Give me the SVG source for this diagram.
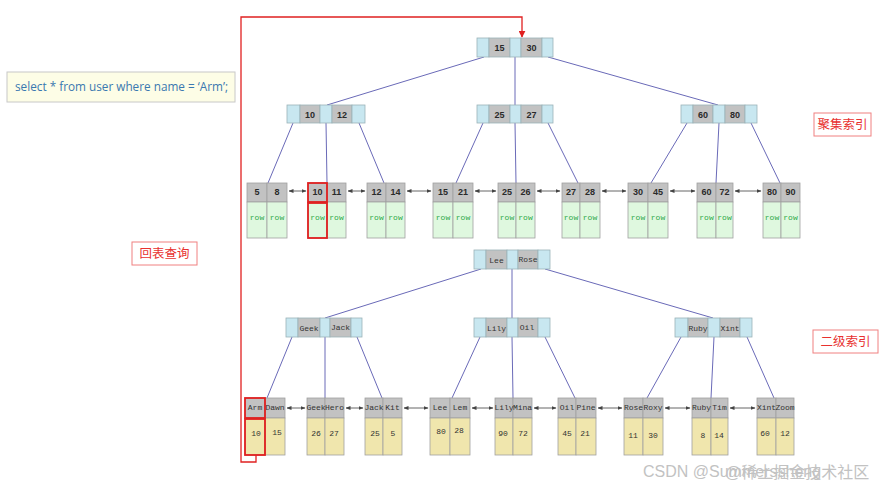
<svg xmlns="http://www.w3.org/2000/svg" width="892" height="489" viewBox="0 0 892 489">
<defs>
<style>
.b{fill:#c8e7f0;stroke:#9bb3b8;stroke-width:0.8}
.g{fill:#c2c2c2;stroke:#9bb3b8;stroke-width:0.8}
.lg{fill:#c2c2c2;stroke:#a0a0a0;stroke-width:0.8}
.gr{fill:#dff8df;stroke:#a0a0a0;stroke-width:0.8}
.ye{fill:#f0e6ad;stroke:#a0a0a0;stroke-width:0.8}
.k{font-family:"Liberation Sans","DejaVu Sans",sans-serif;font-size:9px;fill:#2a2a2a;text-anchor:middle;font-weight:bold}
.m{font-family:"Liberation Mono","DejaVu Sans Mono",monospace;font-size:8px;fill:#333;text-anchor:middle}
.row{font-family:"Liberation Mono","DejaVu Sans Mono",monospace;font-size:8px;fill:#2ea84a;text-anchor:middle}
.c line{stroke:#6a6ab8;stroke-width:1}
.a line{stroke:#555;stroke-width:0.9;marker-start:url(#ah);marker-end:url(#ah)}
.lab{fill:#fff;stroke:#f08080;stroke-width:1}
.lt{font-family:"Noto Sans CJK SC","Noto Sans",sans-serif;font-size:12.5px;fill:#e8312f;text-anchor:middle}
.hl{fill:none;stroke:#e02020;stroke-width:1.8}
</style>
<marker id="ah" viewBox="0 0 10 10" refX="9" refY="5" markerWidth="5" markerHeight="5" orient="auto-start-reverse" markerUnits="userSpaceOnUse"><path d="M0,1 L10,5 L0,9 z" fill="#444"/></marker>
<marker id="ra" viewBox="0 0 10 10" refX="9" refY="5" markerWidth="7" markerHeight="7" orient="auto" markerUnits="userSpaceOnUse"><path d="M0,0 L10,5 L0,10 z" fill="#e02020"/></marker>
</defs>
<rect width="892" height="489" fill="#fff"/>

<!-- SQL box -->
<g id="sql">
<rect x="7" y="72" width="228" height="30" fill="#fdfde6" stroke="#c8c8c8" stroke-width="1"/>
<text x="15" y="91" font-family="'Open Sans','Noto Sans',sans-serif" font-size="12" fill="#3a78b0" textLength="213" lengthAdjust="spacingAndGlyphs">select * from user where name = ‘Arm’;</text>
</g>

<!-- labels -->
<g id="label-cluster"><rect class="lab" x="814" y="113" width="57" height="23"/><text class="lt" x="842.5" y="129">聚集索引</text></g>
<g id="label-back"><rect class="lab" x="132" y="242" width="65" height="23"/><text class="lt" x="164.5" y="258">回表查询</text></g>
<g id="label-second"><rect class="lab" x="813" y="330" width="65" height="23"/><text class="lt" x="845.5" y="346">二级索引</text></g>

<!-- connectors -->
<g id="connectors">
<g class="c">
<line x1="484" y1="57" x2="327" y2="105"/>
<line x1="515" y1="57" x2="515" y2="105"/>
<line x1="548" y1="57" x2="718" y2="105"/>
<line x1="293" y1="123" x2="268" y2="183"/>
<line x1="326" y1="123" x2="327" y2="183"/>
<line x1="359" y1="123" x2="384" y2="183"/>
<line x1="483" y1="123" x2="456" y2="183"/>
<line x1="515" y1="123" x2="516" y2="183"/>
<line x1="548" y1="123" x2="578" y2="183"/>
<line x1="687" y1="123" x2="651" y2="183"/>
<line x1="719" y1="123" x2="716" y2="183"/>
<line x1="751" y1="123" x2="780" y2="183"/>
<line x1="481" y1="269" x2="325" y2="318"/>
<line x1="512" y1="269" x2="512" y2="318"/>
<line x1="545" y1="269" x2="713" y2="318"/>
<line x1="292" y1="337" x2="267" y2="398"/>
<line x1="325" y1="337" x2="325" y2="398"/>
<line x1="357" y1="337" x2="382" y2="398"/>
<line x1="480" y1="337" x2="452" y2="398"/>
<line x1="512" y1="337" x2="513" y2="398"/>
<line x1="545" y1="337" x2="575" y2="398"/>
<line x1="681" y1="337" x2="647" y2="398"/>
<line x1="714" y1="337" x2="711" y2="398"/>
<line x1="747" y1="337" x2="774" y2="398"/>
</g>
<g class="a">
<line x1="289" y1="191" x2="306" y2="191"/>
<line x1="348" y1="191" x2="365" y2="191"/>
<line x1="407" y1="191" x2="431" y2="191"/>
<line x1="475" y1="191" x2="496" y2="191"/>
<line x1="537" y1="191" x2="560" y2="191"/>
<line x1="602" y1="191" x2="626" y2="191"/>
<line x1="670" y1="191" x2="695" y2="191"/>
<line x1="735" y1="191" x2="761" y2="191"/>
<line x1="287" y1="408" x2="305" y2="408"/>
<line x1="346" y1="408" x2="363" y2="408"/>
<line x1="404" y1="408" x2="428" y2="408"/>
<line x1="472" y1="408" x2="493" y2="408"/>
<line x1="534" y1="408" x2="556" y2="408"/>
<line x1="598" y1="408" x2="622" y2="408"/>
<line x1="665" y1="408" x2="690" y2="408"/>
<line x1="730" y1="408" x2="755" y2="408"/>
</g>
<path d="M256,455 V462 H241 V17 H522 V37" fill="none" stroke="#e02020" stroke-width="1.3" marker-end="url(#ra)"/>
</g>

<!-- clustered index internal nodes -->
<g id="c-root">
<rect class="b" x="477" y="38" width="12" height="19"/><rect class="g" x="489" y="38" width="21" height="19"/><rect class="b" x="510" y="38" width="11" height="19"/><rect class="g" x="521" y="38" width="21" height="19"/><rect class="b" x="542" y="38" width="11" height="19"/>
<text class="k" x="499.5" y="51">15</text><text class="k" x="531.5" y="51">30</text>
</g>
<g id="c-10-12">
<rect class="b" x="287" y="105" width="13" height="18"/><rect class="g" x="300" y="105" width="20" height="18"/><rect class="b" x="320" y="105" width="12" height="18"/><rect class="g" x="332" y="105" width="20" height="18"/><rect class="b" x="352" y="105" width="13" height="18"/>
<text class="k" x="310" y="117.5">10</text><text class="k" x="342" y="117.5">12</text>
</g>
<g id="c-25-27">
<rect class="b" x="477" y="105" width="12" height="18"/><rect class="g" x="489" y="105" width="21" height="18"/><rect class="b" x="510" y="105" width="11" height="18"/><rect class="g" x="521" y="105" width="21" height="18"/><rect class="b" x="542" y="105" width="11" height="18"/>
<text class="k" x="499.5" y="117.5">25</text><text class="k" x="531.5" y="117.5">27</text>
</g>
<g id="c-60-80">
<rect class="b" x="681" y="105" width="12" height="18"/><rect class="g" x="693" y="105" width="20" height="18"/><rect class="b" x="713" y="105" width="12" height="18"/><rect class="g" x="725" y="105" width="20" height="18"/><rect class="b" x="745" y="105" width="12" height="18"/>
<text class="k" x="703" y="117.5">60</text><text class="k" x="735" y="117.5">80</text>
</g>

<!-- clustered leaves -->
<g id="cl-1"><rect class="lg" x="247" y="183" width="20" height="19"/><rect class="lg" x="267" y="183" width="20" height="19"/><rect class="gr" x="247" y="202" width="20" height="36"/><rect class="gr" x="267" y="202" width="20" height="36"/><text class="k" x="257" y="195">5</text><text class="k" x="277" y="195">8</text><text class="row" x="257" y="220">row</text><text class="row" x="277" y="220">row</text></g>
<g id="cl-2"><rect class="lg" x="308" y="183" width="19" height="19"/><rect class="lg" x="327" y="183" width="19" height="19"/><rect class="gr" x="308" y="202" width="19" height="36"/><rect class="gr" x="327" y="202" width="19" height="36"/><text class="k" x="317.5" y="195">10</text><text class="k" x="336.5" y="195">11</text><text class="row" x="317.5" y="220">row</text><text class="row" x="336.5" y="220">row</text>
<rect class="hl" x="308" y="183" width="19" height="19"/><rect class="hl" x="308" y="203" width="19" height="35"/></g>
<g id="cl-3"><rect class="lg" x="367" y="183" width="19" height="19"/><rect class="lg" x="386" y="183" width="19" height="19"/><rect class="gr" x="367" y="202" width="19" height="36"/><rect class="gr" x="386" y="202" width="19" height="36"/><text class="k" x="376.5" y="195">12</text><text class="k" x="395.5" y="195">14</text><text class="row" x="376.5" y="220">row</text><text class="row" x="395.5" y="220">row</text></g>
<g id="cl-4"><rect class="lg" x="433" y="183" width="20" height="19"/><rect class="lg" x="453" y="183" width="20" height="19"/><rect class="gr" x="433" y="202" width="20" height="36"/><rect class="gr" x="453" y="202" width="20" height="36"/><text class="k" x="443" y="195">15</text><text class="k" x="463" y="195">21</text><text class="row" x="443" y="220">row</text><text class="row" x="463" y="220">row</text></g>
<g id="cl-5"><rect class="lg" x="498" y="183" width="18" height="19"/><rect class="lg" x="516" y="183" width="19" height="19"/><rect class="gr" x="498" y="202" width="18" height="36"/><rect class="gr" x="516" y="202" width="19" height="36"/><text class="k" x="507" y="195">25</text><text class="k" x="525.5" y="195">26</text><text class="row" x="507" y="220">row</text><text class="row" x="525.5" y="220">row</text></g>
<g id="cl-6"><rect class="lg" x="562" y="183" width="18" height="19"/><rect class="lg" x="580" y="183" width="20" height="19"/><rect class="gr" x="562" y="202" width="18" height="36"/><rect class="gr" x="580" y="202" width="20" height="36"/><text class="k" x="571" y="195">27</text><text class="k" x="590" y="195">28</text><text class="row" x="571" y="220">row</text><text class="row" x="590" y="220">row</text></g>
<g id="cl-7"><rect class="lg" x="628" y="183" width="20" height="19"/><rect class="lg" x="648" y="183" width="20" height="19"/><rect class="gr" x="628" y="202" width="20" height="36"/><rect class="gr" x="648" y="202" width="20" height="36"/><text class="k" x="638" y="195">30</text><text class="k" x="658" y="195">45</text><text class="row" x="638" y="220">row</text><text class="row" x="658" y="220">row</text></g>
<g id="cl-8"><rect class="lg" x="697" y="183" width="19" height="19"/><rect class="lg" x="716" y="183" width="17" height="19"/><rect class="gr" x="697" y="202" width="19" height="36"/><rect class="gr" x="716" y="202" width="17" height="36"/><text class="k" x="706.5" y="195">60</text><text class="k" x="724.5" y="195">72</text><text class="row" x="706.5" y="220">row</text><text class="row" x="724.5" y="220">row</text></g>
<g id="cl-9"><rect class="lg" x="763" y="183" width="18" height="19"/><rect class="lg" x="781" y="183" width="19" height="19"/><rect class="gr" x="763" y="202" width="18" height="36"/><rect class="gr" x="781" y="202" width="19" height="36"/><text class="k" x="772" y="195">80</text><text class="k" x="790.5" y="195">90</text><text class="row" x="772" y="220">row</text><text class="row" x="790.5" y="220">row</text></g>

<!-- secondary internal nodes -->
<g id="s-root">
<rect class="b" x="474" y="250" width="12" height="19"/><rect class="g" x="486" y="250" width="21" height="19"/><rect class="b" x="507" y="250" width="11" height="19"/><rect class="g" x="518" y="250" width="20" height="19"/><rect class="b" x="538" y="250" width="12" height="19"/>
<text class="m" x="496.5" y="263">Lee</text><text class="m" x="528" y="262">Rose</text>
</g>
<g id="s-geek-jack">
<rect class="b" x="286" y="318" width="12" height="19"/><rect class="g" x="298" y="318" width="22" height="19"/><rect class="b" x="320" y="318" width="10" height="19"/><rect class="g" x="330" y="318" width="21" height="19"/><rect class="b" x="351" y="318" width="11" height="19"/>
<text class="m" x="309" y="331">Geek</text><text class="m" x="340.5" y="330">Jack</text>
</g>
<g id="s-lily-oil">
<rect class="b" x="474" y="318" width="12" height="19"/><rect class="g" x="486" y="318" width="21" height="19"/><rect class="b" x="507" y="318" width="11" height="19"/><rect class="g" x="518" y="318" width="20" height="19"/><rect class="b" x="538" y="318" width="12" height="19"/>
<text class="m" x="496.5" y="331">Lily</text><text class="m" x="527" y="330">Oil</text>
</g>
<g id="s-ruby-xint">
<rect class="b" x="675" y="318" width="13" height="19"/><rect class="g" x="688" y="318" width="20" height="19"/><rect class="b" x="708" y="318" width="12" height="19"/><rect class="g" x="720" y="318" width="20" height="19"/><rect class="b" x="740" y="318" width="12" height="19"/>
<text class="m" x="698" y="331">Ruby</text><text class="m" x="730" y="331">Xint</text>
</g>

<!-- secondary leaves -->
<g id="sl-1"><rect class="lg" x="245" y="398" width="20" height="20"/><rect class="lg" x="265" y="398" width="20" height="20"/><rect class="ye" x="245" y="418" width="20" height="37"/><rect class="ye" x="265" y="418" width="20" height="37"/><text class="m" x="255" y="410">Arm</text><text class="m" x="275" y="410">Dawn</text><text class="m" x="256" y="436">10</text><text class="m" x="277" y="435">15</text>
<rect class="hl" x="245" y="398" width="20" height="20"/><rect class="hl" x="245" y="419" width="20" height="36"/></g>
<g id="sl-2"><rect class="lg" x="307" y="398" width="18" height="20"/><rect class="lg" x="325" y="398" width="19" height="20"/><rect class="ye" x="307" y="418" width="18" height="37"/><rect class="ye" x="325" y="418" width="19" height="37"/><text class="m" x="316" y="410">Geek</text><text class="m" x="334.5" y="410">Hero</text><text class="m" x="316" y="436">26</text><text class="m" x="334" y="436">27</text></g>
<g id="sl-3"><rect class="lg" x="365" y="398" width="18" height="20"/><rect class="lg" x="383" y="398" width="19" height="20"/><rect class="ye" x="365" y="418" width="18" height="37"/><rect class="ye" x="383" y="418" width="19" height="37"/><text class="m" x="374" y="410">Jack</text><text class="m" x="392.5" y="410">Kit</text><text class="m" x="375" y="436">25</text><text class="m" x="393" y="436">5</text></g>
<g id="sl-4"><rect class="lg" x="430" y="398" width="20" height="20"/><rect class="lg" x="450" y="398" width="20" height="20"/><rect class="ye" x="430" y="418" width="20" height="37"/><rect class="ye" x="450" y="418" width="20" height="37"/><text class="m" x="440" y="410">Lee</text><text class="m" x="460" y="410">Lem</text><text class="m" x="441" y="434">80</text><text class="m" x="459" y="433">28</text></g>
<g id="sl-5"><rect class="lg" x="495" y="398" width="18" height="20"/><rect class="lg" x="513" y="398" width="19" height="20"/><rect class="ye" x="495" y="418" width="18" height="37"/><rect class="ye" x="513" y="418" width="19" height="37"/><text class="m" x="504" y="410">Lily</text><text class="m" x="522.5" y="410">Mina</text><text class="m" x="503" y="436">90</text><text class="m" x="523" y="436">72</text></g>
<g id="sl-6"><rect class="lg" x="558" y="398" width="18" height="20"/><rect class="lg" x="576" y="398" width="20" height="20"/><rect class="ye" x="558" y="418" width="18" height="37"/><rect class="ye" x="576" y="418" width="20" height="37"/><text class="m" x="567" y="410">Oil</text><text class="m" x="586" y="410">Pine</text><text class="m" x="567" y="436">45</text><text class="m" x="585" y="436">21</text></g>
<g id="sl-7"><rect class="lg" x="624" y="398" width="19" height="20"/><rect class="lg" x="643" y="398" width="20" height="20"/><rect class="ye" x="624" y="418" width="19" height="37"/><rect class="ye" x="643" y="418" width="20" height="37"/><text class="m" x="633.5" y="410">Rose</text><text class="m" x="653" y="410">Roxy</text><text class="m" x="633" y="438">11</text><text class="m" x="653" y="438">30</text></g>
<g id="sl-8"><rect class="lg" x="692" y="398" width="19" height="20"/><rect class="lg" x="711" y="398" width="17" height="20"/><rect class="ye" x="692" y="418" width="19" height="37"/><rect class="ye" x="711" y="418" width="17" height="37"/><text class="m" x="701.5" y="410">Ruby</text><text class="m" x="719.5" y="410">Tim</text><text class="m" x="703" y="438">8</text><text class="m" x="719" y="438">14</text></g>
<g id="sl-9"><rect class="lg" x="757" y="398" width="19" height="20"/><rect class="lg" x="776" y="398" width="18" height="20"/><rect class="ye" x="757" y="418" width="19" height="37"/><rect class="ye" x="776" y="418" width="18" height="37"/><text class="m" x="766.5" y="410">Xint</text><text class="m" x="785" y="410">Zoom</text><text class="m" x="765" y="436">60</text><text class="m" x="785" y="436">12</text></g>

<!-- watermark -->
<g id="watermark" font-family="'Liberation Sans','Noto Sans CJK SC',sans-serif" font-size="16" fill="#b8b8b8" opacity="0.85">
<text x="643" y="477">CSDN @Summerssheng</text>
<text x="725" y="478">@稀土掘金技术社区</text>
</g>
</svg>
